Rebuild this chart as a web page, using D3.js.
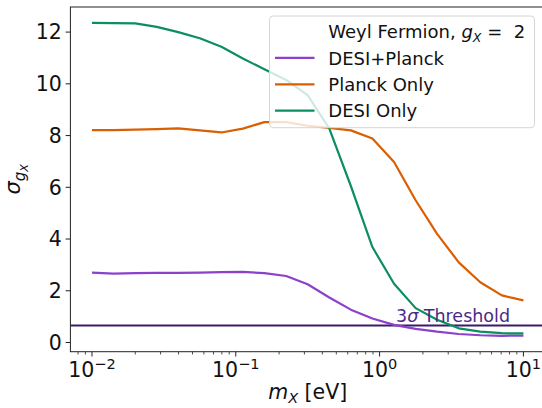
<!DOCTYPE html>
<html>
<head>
<meta charset="utf-8">
<script src="https://cdn.jsdelivr.net/npm/d3@7"></script>
<style>
  body { margin: 0; background: #fff; }
  svg { font-family: "DejaVu Sans", sans-serif; display: block; }
</style>
</head>
<body>
<div id="chart"></div>
<script>
// masses in eV, logspace(-2, 1, 21)
const masses = [0.01, 0.0141, 0.02, 0.0282, 0.0398, 0.0562, 0.0794, 0.112, 0.158, 0.224,
  0.316, 0.447, 0.631, 0.891, 1.26, 1.78, 2.51, 3.55, 5.01, 7.08, 10];
const desiPlanck = [2.70, 2.66, 2.68, 2.69, 2.69, 2.70, 2.72, 2.73, 2.68, 2.57,
  2.25, 1.74, 1.27, 0.93, 0.68, 0.53, 0.42, 0.33, 0.28, 0.26, 0.27];
const planckOnly = [8.21, 8.21, 8.23, 8.25, 8.28, 8.20, 8.12, 8.27, 8.52, 8.52,
  8.38, 8.30, 8.20, 7.89, 6.98, 5.50, 4.20, 3.10, 2.33, 1.82, 1.63];
const desiOnly = [12.36, 12.35, 12.34, 12.20, 12.00, 11.76, 11.43, 10.98, 10.56, 10.15,
  9.56, 8.27, 6.05, 3.69, 2.27, 1.33, 0.88, 0.55, 0.42, 0.36, 0.35];
const seriesNames = ["DESI+Planck", "Planck Only", "DESI Only"];
const seriesColors = ["#8c41cc", "#d95f02", "#0b8f5f"];
const yTicks = [0, 2, 4, 6, 8, 10, 12];
const xTicks = [1e-2, 1e-1, 1e0, 1e1];
const threshold = 0.66;
const thresholdLabelAt = [1.3, 0.79];

const width = 542, height = 408;
const margin = { top: 7, left: 70.4 };
const plotRight = 545, plotBottom = 351.7;

const svg = d3.select("#chart").append("svg")
  .attr("width", width).attr("height", height);

const x = d3.scaleLog()
  .domain([Math.pow(10, -2.15), Math.pow(10, 1.15)])
  .range([margin.left, plotRight]);
const y = d3.scaleLinear()
  .domain([-0.355, 12.97])
  .range([plotBottom, margin.top]);

svg.append("clipPath").attr("id", "plotclip")
  .append("rect")
  .attr("x", margin.left).attr("y", margin.top)
  .attr("width", plotRight - margin.left).attr("height", plotBottom - margin.top);

const plot = svg.append("g").attr("clip-path", "url(#plotclip)");

const line = d3.line()
  .x((d) => x(d[0]))
  .y((d) => y(d[1]));

const allSeries = [desiPlanck, planckOnly, desiOnly];

// threshold line
plot.append("line")
  .attr("x1", margin.left).attr("x2", plotRight)
  .attr("y1", y(threshold)).attr("y2", y(threshold))
  .attr("stroke", "#3a1a6a")
  .attr("stroke-width", 2);

allSeries.forEach(function (vals, i) {
  plot.append("path")
    .datum(masses.map((m, j) => [m, vals[j]]))
    .attr("d", line)
    .attr("fill", "none")
    .attr("stroke", seriesColors[i])
    .attr("stroke-width", 2.2)
    .attr("stroke-linejoin", "round");
});

// threshold label
const thr = svg.append("text")
  .attr("x", x(thresholdLabelAt[0]))
  .attr("y", y(thresholdLabelAt[1]))
  .attr("fill", "#4a2a85")
  .style("font-size", "17.5px");
thr.append("tspan").text("3");
thr.append("tspan").attr("font-style", "italic").text("σ");
thr.append("tspan").text(" Threshold");

// spines
svg.append("rect")
  .attr("x", margin.left).attr("y", margin.top)
  .attr("width", plotRight - margin.left).attr("height", plotBottom - margin.top)
  .attr("fill", "none")
  .attr("stroke", "#222")
  .attr("stroke-width", 1);

// x axis
const xAxis = svg.append("g").attr("transform", `translate(0,${plotBottom})`);
const minor = [];
[-3, -2, -1, 0, 1].forEach(function (e) {
  for (let k = 2; k <= 9; k++) {
    const v = k * Math.pow(10, e);
    if (v > x.domain()[0] && v < x.domain()[1]) minor.push(v);
  }
});
xAxis.selectAll(".minor").data(minor).enter().append("line")
  .attr("x1", (d) => x(d)).attr("x2", (d) => x(d))
  .attr("y1", 0).attr("y2", 2.8)
  .attr("stroke", "#222").attr("stroke-width", 0.8);
xAxis.selectAll(".major").data(xTicks).enter().append("line")
  .attr("x1", (d) => x(d)).attr("x2", (d) => x(d))
  .attr("y1", 0).attr("y2", 4.8)
  .attr("stroke", "#222").attr("stroke-width", 1);
const xl = xAxis.selectAll(".xlabel").data(xTicks).enter().append("text")
  .attr("x", (d) => x(d))
  .attr("y", 25.5)
  .attr("text-anchor", "middle")
  .attr("fill", "#111")
  .style("font-size", "20.5px");
xl.append("tspan").text("10");
xl.append("tspan")
  .attr("dy", -8.5)
  .style("font-size", "14.5px")
  .text((d) => { const e = Math.round(Math.log10(d)); return e < 0 ? "\u2212" + (-e) : "" + e; });

// y axis
const yAxis = svg.append("g").attr("transform", `translate(${margin.left},0)`);
yAxis.selectAll(".ytick").data(yTicks).enter().append("line")
  .attr("x1", -4.8).attr("x2", 0)
  .attr("y1", (d) => y(d)).attr("y2", (d) => y(d))
  .attr("stroke", "#222").attr("stroke-width", 1);
yAxis.selectAll(".ylabel").data(yTicks).enter().append("text")
  .attr("x", -8.5)
  .attr("y", (d) => y(d))
  .attr("dy", "0.36em")
  .attr("text-anchor", "end")
  .attr("fill", "#111")
  .style("font-size", "20.5px")
  .text((d) => d);

// axis labels
const xt = svg.append("text")
  .attr("x", (margin.left + plotRight) / 2)
  .attr("y", 399)
  .attr("text-anchor", "middle")
  .attr("fill", "#111")
  .style("font-size", "20.5px");
xt.append("tspan").attr("font-style", "italic").text("m");
xt.append("tspan").attr("font-style", "italic").attr("dy", 4).style("font-size", "14.5px").text("X");
xt.append("tspan").attr("dy", -4).text(" [eV]");

const yt = svg.append("text")
  .attr("transform", `translate(20,${(margin.top + plotBottom) / 2}) rotate(-90)`)
  .attr("text-anchor", "middle")
  .attr("fill", "#111")
  .style("font-size", "21px");
yt.append("tspan").attr("font-style", "italic").text("σ");
yt.append("tspan").attr("font-style", "italic").attr("dy", 5).style("font-size", "15px").text("g");
yt.append("tspan").attr("font-style", "italic").attr("dy", 3).style("font-size", "11px").text("X");

// legend
const legend = svg.append("g");
legend.append("rect")
  .attr("x", 269.5).attr("y", 16)
  .attr("width", 265).attr("height", 111.7)
  .attr("rx", 3.5)
  .attr("fill", "rgba(255,255,255,0.8)")
  .attr("stroke", "#d6d6d6")
  .attr("stroke-width", 1);
const rowY = (i) => 31.5 + i * 26.4;
const title = legend.append("text")
  .attr("x", 328.3).attr("y", rowY(0) + 6.6)
  .attr("fill", "#111")
  .style("font-size", "18px");
title.append("tspan").text("Weyl Fermion, ");
title.append("tspan").attr("font-style", "italic").text("g");
title.append("tspan").attr("font-style", "italic").attr("dy", 4).style("font-size", "12.5px").text("X");
title.append("tspan").attr("dy", -4).text(" = \u00a02");
seriesNames.forEach(function (name, i) {
  legend.append("line")
    .attr("x1", 275).attr("x2", 314.5)
    .attr("y1", rowY(i + 1)).attr("y2", rowY(i + 1))
    .attr("stroke", seriesColors[i]).attr("stroke-width", 2.2);
  legend.append("text")
    .attr("x", 328.3).attr("y", rowY(i + 1) + 6.6)
    .attr("fill", "#111")
    .style("font-size", "18px")
    .text(name);
});
</script>
</body>
</html>
